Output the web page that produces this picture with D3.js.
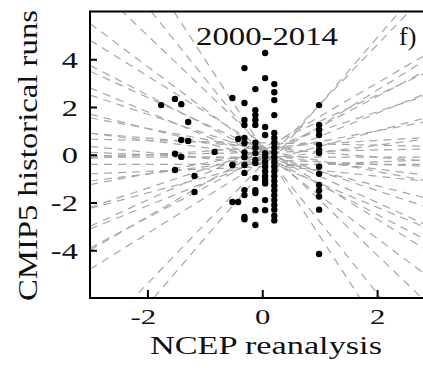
<!DOCTYPE html>
<html>
<head>
<meta charset="utf-8">
<script src="https://cdn.jsdelivr.net/npm/d3@7"></script>
<style>
  body { margin: 0; background: #fff; }
  text { font-family: "Liberation Serif", "Times New Roman", serif; fill: #111; }
</style>
</head>
<body>
<div id="chart"></div>
<script>
// NCEP value of each column of points, and the model values at that NCEP value
const ncepValues = [-1.76, -1.52, -1.41, -1.29, -1.18, -0.83, -0.52, -0.42, -0.31, -0.12, 0.05, 0.21, 0.99];
const modelValues = [
  [2.08],
  [2.34, 0.04, -0.64],
  [2.12, 0.62, -0.09],
  [1.37, 0.58],
  [-0.89, -1.56],
  [0.12],
  [2.38, -0.43, -1.98],
  [0.66, -1.98],
  [3.63, 2.17, 1.46, 1.25, 0.70, 0.49, 0.1, -0.1, -0.43, -0.76, -1.48, -1.69, -2.6, -2.7],
  [2.75, 1.87, 1.66, 1.46, 1.25, 0.5, 0.3, 0.07, -0.22, -0.35, -0.97, -1.48, -1.6, -2.32, -2.94],
  [4.26, 3.21, 1.16, 0.83, 0.07, -0.09, -0.3, -0.5, -0.7, -0.9, -1.06, -1.2, -1.9, -2.32],
  [2.96, 2.62, 2.29, 1.66, 0.91, 0.7, 0.5, 0.3, 0.1, -0.1, -0.3, -0.5, -0.7, -0.9, -1.1, -1.3, -1.5, -1.7, -1.9, -2.1, -2.3, -2.55, -2.75],
  [2.08, 1.25, 1.04, 0.83, 0.41, 0.2, 0.07, -0.5, -0.8, -1.27, -1.5, -1.75, -2.3, -4.16]
];

// regression lines of the single runs (slope, value at x = 0)
const lineSlopes = [-3.7, -3.0, -2.3, -1.8, -1.5, -1.25, -1.1, -1.0, -0.8, -0.6, -0.45, -0.3, -0.25, -0.2, -0.1, -0.05,
  0.0, 0.0, 0.05, 0.1, 0.15, 0.3, 0.45, 0.65, 0.8, 0.97, 1.1, 1.27, 1.4, 1.5, 2.5, 2.8];
const lineIntercepts = [0.3, 0.2, 0.4, 0.1, 0.3, 0.0, 0.2, -0.2, 0.1, -0.1, 0.2, 0.0, -0.4, 0.3, -0.2, 0.5,
  -0.1, -0.4, 0.1, -0.5, 0.3, -0.2, 0.1, -0.3, 0.2, -0.2, 0.3, -0.1, 0.2, -0.3, -0.4, -0.7];

const xTicks = [-2, 0, 2];
const yTicks = [-4, -2, 0, 2, 4];

const W = 423, H = 368;
const svg = d3.select("#chart").append("svg")
  .attr("width", W)
  .attr("height", H);

const x = d3.scaleLinear().domain([-3, 3]).range([90, 434.5]);
const y = d3.scaleLinear().domain([-6, 6]).range([298, 11.5]);

svg.append("clipPath").attr("id", "plotclip")
  .append("rect")
  .attr("x", x(-3)).attr("y", y(6))
  .attr("width", x(3) - x(-3)).attr("height", y(-6) - y(6));

// dashed regression lines
const lines = lineSlopes.map((m, i) => [[-3, lineIntercepts[i] - 3 * m], [3, lineIntercepts[i] + 3 * m]]);
const lineGen = d3.line().x(d => x(d[0])).y(d => y(d[1]));
svg.append("g")
  .attr("clip-path", "url(#plotclip)")
  .selectAll("path")
  .data(lines)
  .enter()
  .append("path")
  .attr("d", lineGen)
  .attr("fill", "none")
  .attr("stroke", "#a6a6a6")
  .attr("stroke-width", 1.2)
  .attr("stroke-dasharray", "8,6");

// points
const points = [];
ncepValues.forEach((nx, i) => modelValues[i].forEach(v => points.push([nx, v])));
svg.append("g")
  .selectAll("circle")
  .data(points)
  .enter()
  .append("circle")
  .attr("cx", d => x(d[0]))
  .attr("cy", d => y(d[1]))
  .attr("r", 3.2)
  .attr("fill", "#000");

// frame
svg.append("path")
  .attr("d", `M${x(3)},${y(6)}H${x(-3)}V${y(-6)}H${x(3)}`)
  .attr("fill", "none")
  .attr("stroke", "#000")
  .attr("stroke-width", 2);

// axes with inward ticks
const yAxis = svg.append("g")
  .attr("transform", `translate(${x(-3)},0)`)
  .call(d3.axisLeft(y).tickValues(yTicks).tickSize(-7).tickFormat(d => String(d)));
const xAxis = svg.append("g")
  .attr("transform", `translate(0,${y(-6)})`)
  .call(d3.axisBottom(x).tickValues(xTicks).tickSize(-8).tickFormat(d => String(d)));

[yAxis, xAxis].forEach(g => {
  g.select(".domain").remove();
  g.selectAll(".tick line").attr("stroke", "#000").attr("stroke-width", 2);
  g.selectAll(".tick text").attr("fill", "#111");
});
yAxis.selectAll(".tick text")
  .attr("font-size", 24)
  .attr("x", -9)
  .attr("dy", "0.34em")
  .attr("transform", "scale(1.35,1)");
xAxis.selectAll(".tick text")
  .attr("font-size", 22)
  .attr("y", 26)
  .attr("dy", null)
  .attr("dx", d => d < 0 ? "-0.15em" : null)
  .attr("transform", "scale(1.4,1)");

// labels
svg.append("text")
  .attr("x", 267).attr("y", 45)
  .attr("text-anchor", "middle")
  .attr("font-size", 26)
  .attr("textLength", 142).attr("lengthAdjust", "spacingAndGlyphs")
  .text("2000-2014");
svg.append("text")
  .attr("x", 399).attr("y", 45)
  .attr("font-size", 26)
  .text("f)");
svg.append("text")
  .attr("x", 266).attr("y", 354)
  .attr("text-anchor", "middle")
  .attr("font-size", 26)
  .attr("textLength", 232).attr("lengthAdjust", "spacingAndGlyphs")
  .text("NCEP reanalysis");
svg.append("text")
  .attr("transform", "translate(37,155.5) rotate(-90)")
  .attr("text-anchor", "middle")
  .attr("font-size", 27)
  .attr("textLength", 291).attr("lengthAdjust", "spacingAndGlyphs")
  .text("CMIP5 historical runs");
</script>
</body>
</html>
